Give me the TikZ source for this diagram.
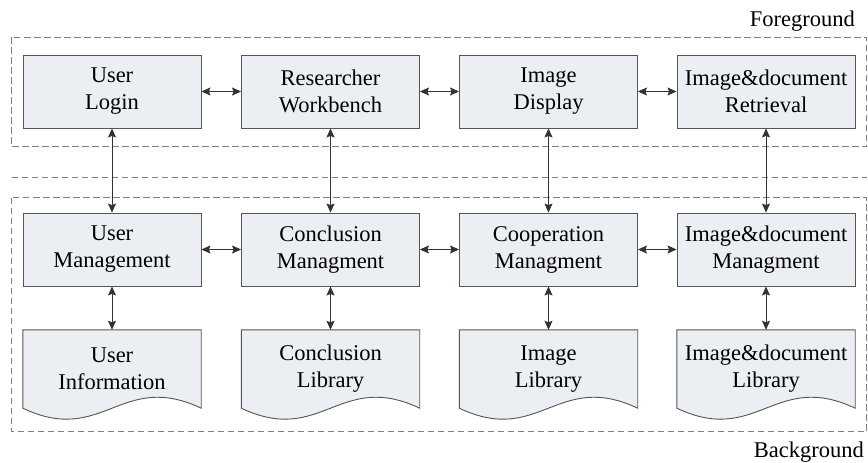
\documentclass[tikz,border=0pt]{standalone}
\usepackage{fontspec}
\setmainfont{Liberation Serif}
\usetikzlibrary{arrows.meta,backgrounds,calc}
\definecolor{boxfill}{HTML}{EBEEF3}
\definecolor{boxline}{HTML}{555555}
\definecolor{dashline}{HTML}{7F7F7F}
\tikzset{
  blk/.style={draw=boxline, line width=0.9pt, fill=boxfill, minimum width=178pt, minimum height=73pt, align=center, inner sep=0pt, font=\fontsize{22.5}{27}\selectfont},
  doc/.style={minimum width=178pt, minimum height=78pt, align=center, inner sep=0pt, font=\fontsize{22.5}{27}\selectfont},
  docshape/.style={draw=boxline, line width=0.9pt, fill=boxfill},
  frame/.style={draw=dashline, line width=0.9pt, dash pattern=on 6.5pt off 3.5pt},
  link/.style={line width=0.9pt, draw=black!80, {Stealth[length=9pt,width=8pt,inset=1.5pt]}-{Stealth[length=9pt,width=8pt,inset=1.5pt]}},
  lbl/.style={font=\fontsize{22.5}{27}\selectfont, anchor=base east, inner sep=0pt}
}
\begin{document}
\begin{tikzpicture}[x=1pt,y=-1pt]
\useasboundingbox (0,0) rectangle (868,463);
% frames
\draw[frame] (11.5,37) rectangle (866.5,146.5);
\draw[frame] (11.5,177) -- (866.5,177);
\draw[frame] (11.5,197.5) rectangle (866.5,431.5);
\node[lbl] (fg) at (855,26) {Foreground};
\node[lbl] (bg) at (864,457) {Background};
% top row
\node[blk] (login) at (112,91.5) {User\\Login};
\node[blk] (wb) at (330.5,91.5) {Researcher\\Workbench};
\node[blk] (disp) at (548.5,91.5) {Image\\Display};
\node[blk] (retr) at (766,91.5) {Image\&document\\Retrieval};
% middle row
\node[blk] (um) at (112,249.5) {User\\Management};
\node[blk] (cm) at (330.5,249.5) {Conclusion\\Managment};
\node[blk] (coop) at (548.5,249.5) {Cooperation\\Managment};
\node[blk] (idm) at (766,249.5) {Image\&document\\Managment};
% bottom row (documents)
\node[doc] (ui) at (112,369) {User\\Information};
\node[doc] (cl) at (330.5,369) {Conclusion\\Library};
\node[doc] (il) at (548.5,369) {Image\\Library};
\node[doc] (idl) at (766,369) {Image\&document\\Library};
\begin{scope}[on background layer]
\foreach \n in {ui,cl,il,idl}{
  \draw[docshape] (\n.south west) -- (\n.north west) -- (\n.north east) -- (\n.south east)
    .. controls ($(\n.south west)!0.55!(\n.south east)+(0,-38)$) and ($(\n.south west)!0.45!(\n.south east)+(0,38)$) .. (\n.south west) -- cycle;
}
\end{scope}
% horizontal links
\draw[link] (login) -- (wb);
\draw[link] (wb) -- (disp);
\draw[link] (disp) -- (retr);
\draw[link] (um) -- (cm);
\draw[link] (cm) -- (coop);
\draw[link] (coop) -- (idm);
% vertical links
\draw[link] (login) -- (um);
\draw[link] (wb) -- (cm);
\draw[link] (disp) -- (coop);
\draw[link] (retr) -- (idm);
\draw[link] (um) -- (ui);
\draw[link] (cm) -- (cl);
\draw[link] (coop) -- (il);
\draw[link] (idm) -- (idl);
\end{tikzpicture}
\end{document}
